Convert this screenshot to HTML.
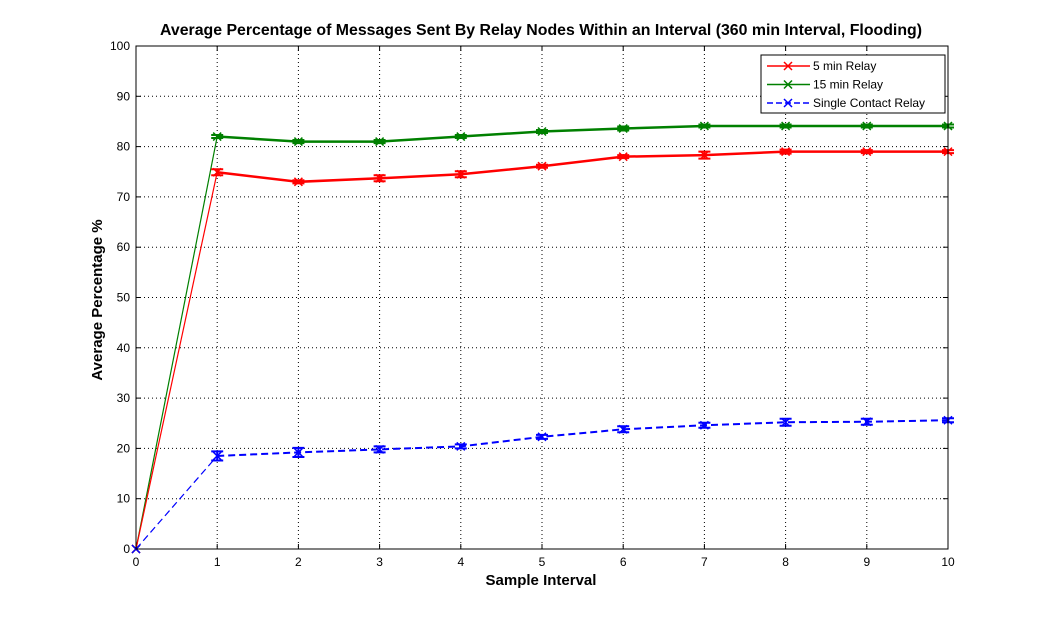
<!DOCTYPE html>
<html><head><meta charset="utf-8"><style>
body{margin:0;background:#fff;width:1047px;height:618px;overflow:hidden}
svg text{font-family:"Liberation Sans",Arial,sans-serif}
</style></head><body>
<svg id="chart" width="1047" height="618" xmlns="http://www.w3.org/2000/svg">
<rect x="0" y="0" width="1047" height="618" fill="#fff"/>
<text x="541" y="35" text-anchor="middle" font-size="15.6" font-weight="bold" textLength="762" lengthAdjust="spacingAndGlyphs">Average Percentage of Messages Sent By Relay Nodes Within an Interval (360 min Interval, Flooding)</text>
<text x="541" y="585" text-anchor="middle" font-size="15" font-weight="bold">Sample Interval</text>
<text transform="translate(102,300) rotate(-90)" text-anchor="middle" font-size="15" font-weight="bold">Average Percentage %</text>
<g id="grid"></g><g id="series"></g>
<rect x="136" y="46" width="812" height="503" fill="none" stroke="#000" stroke-width="1"/>
<g id="legend">
<rect x="761" y="55" width="184" height="58" fill="#fff" stroke="#000"/>
</g>
</svg>
<script>
const xTicks=[0,1,2,3,4,5,6,7,8,9,10];
const yTicks=[0,10,20,30,40,50,60,70,80,90,100];
const xs=[0,1,2,3,4,5,6,7,8,9,10];
const relay5=[0,74.9,73,73.7,74.5,76.1,78,78.3,79,79,79];
const relay15=[0,82,81,81,82,83,83.6,84.1,84.1,84.1,84.1];
const single=[0,18.5,19.2,19.8,20.4,22.3,23.8,24.6,25.2,25.3,25.6];
const err5=[0,0.6,0.3,0.6,0.6,0.3,0.3,0.7,0.4,0.3,0.3];
const err15=[0,0.3,0.3,0.3,0.3,0.3,0.4,0.3,0.3,0.3,0.3];
const errS=[0,0.9,0.9,0.6,0.4,0.4,0.6,0.5,0.7,0.6,0.4];
const seriesNames=["5 min Relay","15 min Relay","Single Contact Relay"];
const NS="http://www.w3.org/2000/svg";
const X=v=>136+v*81.2, Y=v=>549-v*5.03;
function mk(t,a,p){const e=document.createElementNS(NS,t);for(const k in a)e.setAttribute(k,a[k]);p.appendChild(e);return e;}
const grid=document.getElementById('grid');
xTicks.forEach(t=>{
 if(t>0&&t<10){const l=mk('line',{x1:X(t),x2:X(t),y1:46,y2:549,stroke:'#000','stroke-dasharray':'1,3','stroke-width':1},grid);
 }
 mk('line',{x1:X(t),x2:X(t),y1:549,y2:544,stroke:'#000'},grid);mk('line',{x1:X(t),x2:X(t),y1:46,y2:51,stroke:'#000'},grid);
 const tx=mk('text',{x:X(t),y:566,'text-anchor':'middle','font-size':12},grid);tx.textContent=t;
 
});
yTicks.forEach(t=>{
 if(t>0&&t<100){const l=mk('line',{x1:136,x2:948,y1:Y(t),y2:Y(t),stroke:'#000','stroke-dasharray':'1,3','stroke-width':1},grid);
 }
 mk('line',{x1:136,x2:141,y1:Y(t),y2:Y(t),stroke:'#000'},grid);mk('line',{x1:948,x2:943,y1:Y(t),y2:Y(t),stroke:'#000'},grid);
 const tx=mk('text',{x:130,y:Y(t)+4,'text-anchor':'end','font-size':12},grid);tx.textContent=t;
 
});
const sg=document.getElementById('series');
function marker(g,cx,cy,c){mk('path',{d:`M${cx-4},${cy-4}L${cx+4},${cy+4}M${cx-4},${cy+4}L${cx+4},${cy-4}`,stroke:c,'stroke-width':1.5},g);}
function draw(vals,errs,c,dash,name,w){
 const g=mk('g',{},sg);
 const s0=mk('line',{x1:X(xs[0]),y1:Y(vals[0]),x2:X(xs[1]),y2:Y(vals[1]),stroke:c,'stroke-width':1.2},g);
 if(dash)s0.setAttribute('stroke-dasharray','7,4');
 const pl=mk('polyline',{points:xs.slice(1).map((x,i)=>X(x)+','+Y(vals[i+1])).join(' '),fill:'none',stroke:c,'stroke-width':w},g);
 if(dash)pl.setAttribute('stroke-dasharray','7,4');
 
 xs.forEach((x,i)=>{const cx=X(x),cy=Y(vals[i]),e=errs[i]*5.03;
  if(e>0){mk('path',{d:`M${cx},${cy-e}L${cx},${cy+e}M${cx-6},${cy-e}L${cx+6},${cy-e}M${cx-6},${cy+e}L${cx+6},${cy+e}`,stroke:c,'stroke-width':2},g);}
  marker(g,cx,cy,c);});
}
draw(relay15,err15,'#008000',false,'series-15-min-relay',2.5);
draw(relay5,err5,'#ff0000',false,'series-5-min-relay',2.5);
draw(single,errS,'#0000ff',true,'series-single-contact-relay',2);
const lg=document.getElementById('legend');
const cols=['#ff0000','#008000','#0000ff'];
seriesNames.forEach((n,i)=>{const y=66+i*18.5;
 const e=mk('g',{},lg);
 const l=mk('line',{x1:767,x2:810,y1:y,y2:y,stroke:cols[i],'stroke-width':1.5},e);if(i==2)l.setAttribute('stroke-dasharray','6,3');
 marker(e,788,y,cols[i]);
 const t=mk('text',{x:813,y:y+4,'font-size':12},e);t.textContent=n;});
</script>
</body></html>
